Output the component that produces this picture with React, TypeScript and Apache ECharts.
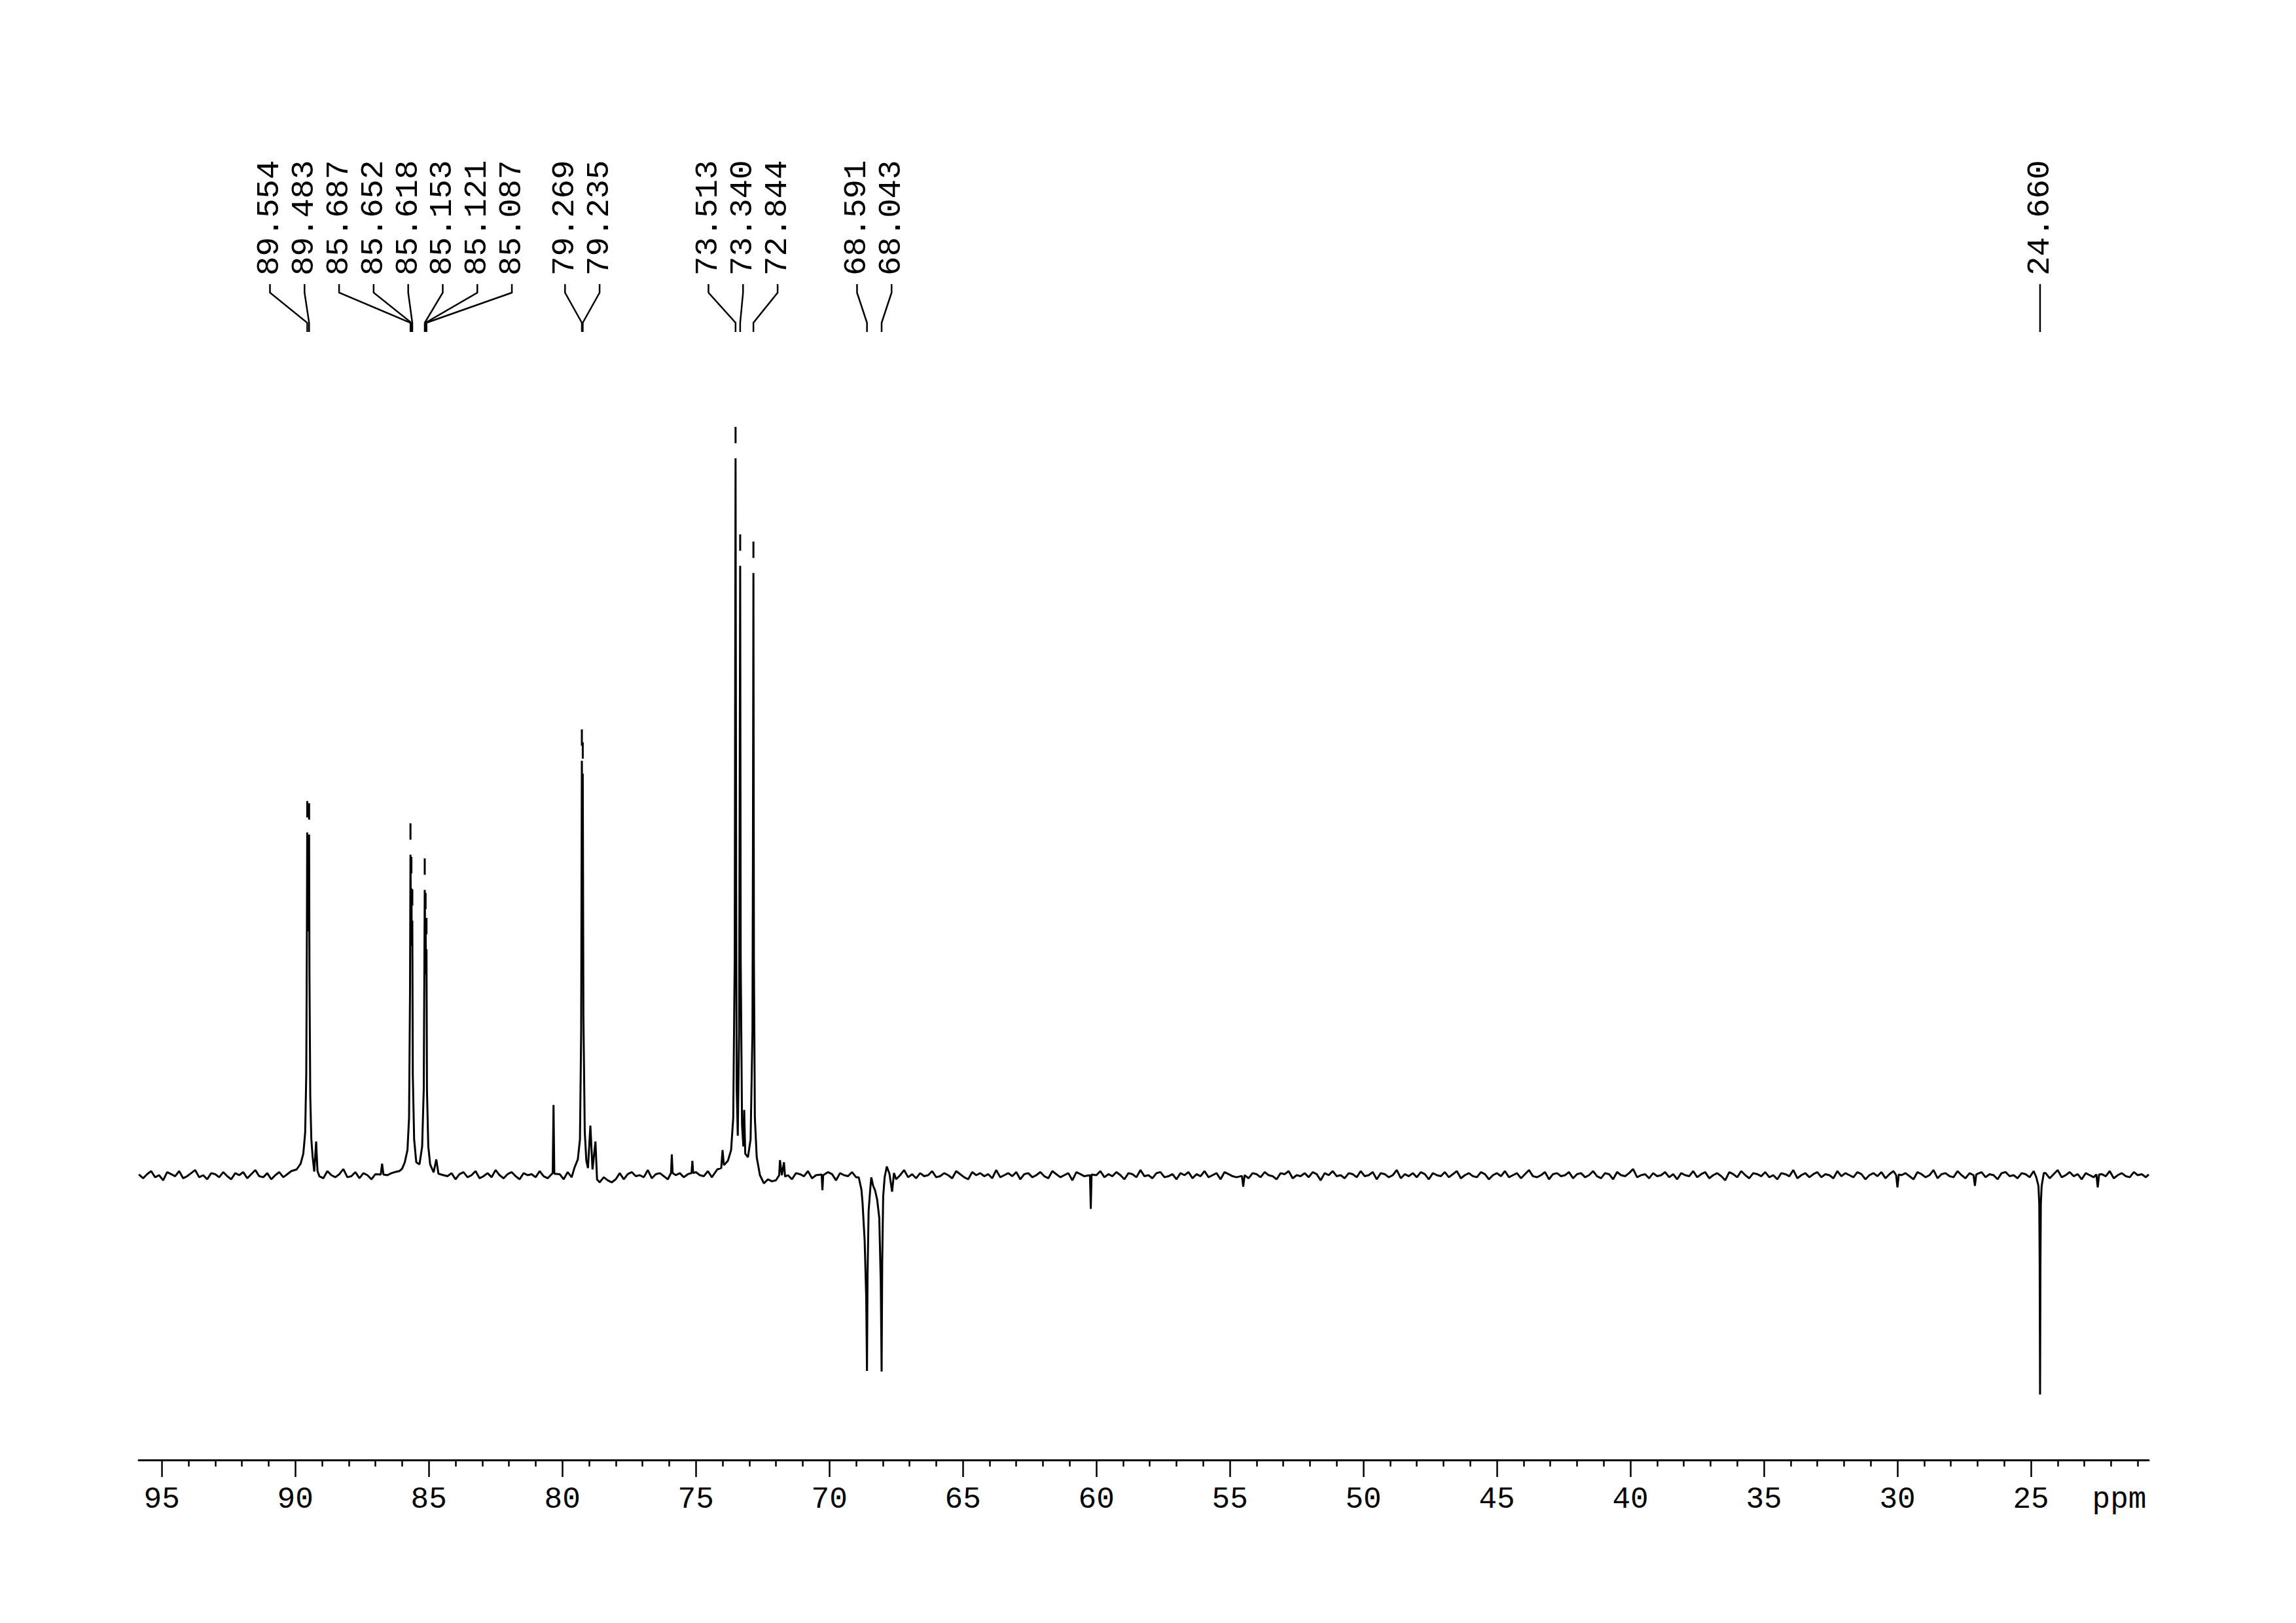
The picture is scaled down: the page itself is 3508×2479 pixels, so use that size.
import React, { useEffect, useRef } from "react";
import * as echarts from "echarts";

// ---------------- data ----------------
const PEAK_PPM = [89.554, 89.483, 85.687, 85.652, 85.618, 85.153, 85.121, 85.087, 79.269, 79.235, 73.513, 73.34, 72.844, 68.591, 68.043, 24.66];
const PEAK_LABELS = ["89.554", "89.483", "85.687", "85.652", "85.618", "85.153", "85.121", "85.087", "79.269", "79.235", "73.513", "73.340", "72.844", "68.591", "68.043", "24.660"];
// relative intensity (73.513 ppm = 100)
const PEAK_HEIGHT = [47.8, 47.5, 44.7, 40.0, 35.5, 39.8, 35.0, 31.5, 57.8, 56.0, 100, 85.0, 84.0, -27.3, -27.4, -30.6];

// trace vertices around signals (skirts, valleys, small signals)
const TRACE: number[][] = [
  [95.86, 0.1],
  [89.95, 0.8], [89.8, 1.6], [89.7, 3.0], [89.63, 6], [89.59, 14], [89.568, 32], [89.542, 36], [89.52, 34], [89.497, 36], [89.47, 28],
  [89.44, 11], [89.4, 5], [89.35, 2.5], [89.29, 0.5], [89.22, 4.7], [89.17, 0.6],
  [86.8, 0.1], [86.75, 1.6], [86.7, 0.1],
  [86.2, 0.5], [86.0, 0.9], [85.9, 1.8], [85.8, 3.5], [85.74, 8], [85.705, 25], [85.67, 36], [85.635, 32], [85.6, 14], [85.55, 5],
  [85.47, 1.8], [85.35, 1.5], [85.25, 4], [85.19, 12], [85.168, 28], [85.137, 33], [85.104, 28], [85.07, 12], [85.02, 4], [84.95, 1.5],
  [84.82, 0.4], [84.72, 2.2], [84.64, 0.2],
  [80.36, 0.3], [80.33, 9.8], [80.3, 0.2],
  [79.55, 1.0], [79.42, 2.2], [79.34, 5], [79.295, 20], [79.252, 48], [79.21, 22], [79.16, 6], [79.1, 2.0], [79.04, 1.0], [78.95, 6.9],
  [78.87, 0.8], [78.76, 4.7], [78.7, -0.6],
  [75.93, 0.3], [75.9, 2.9], [75.87, 0.3],
  [75.16, 0.3], [75.13, 2.0], [75.1, 0.3],
  [74.2, 0.8], [74.05, 1.0], [74.0, 3.5], [73.95, 1.4], [73.8, 2.0], [73.68, 3.5], [73.6, 8], [73.545, 30], [73.49, 40], [73.47, 12],
  [73.43, 5.5], [73.38, 20], [73.36, 50], [73.32, 30], [73.27, 7], [73.22, 4], [73.19, 9.1], [73.15, 3], [73.05, 2.5], [72.95, 5],
  [72.88, 20], [72.862, 45], [72.825, 30], [72.79, 8], [72.72, 2.5], [72.6, 0],
  [71.88, 0.0], [71.85, 2.1], [71.78, 0.0], [71.7, 1.8], [71.66, -0.2],
  [70.29, 0.1], [70.26, -2.1], [70.23, 0.0],
  [68.9, -0.3], [68.8, -2.0], [68.76, -3.7], [68.68, -9], [68.62, -17], [68.57, -14], [68.53, -5], [68.47, -2.0], [68.43, -0.3], [68.36, -1.5],
  [68.29, -2.1], [68.21, -3.4], [68.13, -6], [68.075, -15], [68.02, -12], [67.985, -3], [67.93, -0.3], [67.85, 1.2], [67.75, 0.2], [67.65, -2.3],
  [67.58, 0.3],
  [60.24, 0.0], [60.21, -4.7], [60.18, 0.1],
  [54.55, -0.1], [54.5, -1.6], [54.45, 0.0],
  [30.05, 0.0], [30.0, -1.7], [29.95, 0.1],
  [27.15, 0.0], [27.1, -1.5], [27.05, 0.1],
  [24.8, -0.3], [24.72, -1.5], [24.69, -4], [24.675, -12], [24.645, -12], [24.63, -4], [24.6, -1.5], [24.52, 0.3],
  [22.55, 0.1], [22.5, -1.7], [22.45, 0.1],
  [20.59, 0.1],
];

// baseline noise (in 1/7 of an intensity unit), every 0.15 ppm starting at 95.85 ppm
const NOISE_START = 95.85;
const NOISE_STEP = 0.15;
const NOISE_DIV = 7;
const NOISE = [
  2, -3, 1, 4, -2, 0, -5, 3, 1, -1, 4, -3, -1, 2, 5, -2, 0, -4, 2, 1,
  -2, 3, -1, -4, 2, 0, 3, -3, 1, 5, -1, -2, 2, -4, 0, 3, -2, 1, 4, -3,
  0, 2, -5, 1, 3, -1, -3, 4, 0, -2, 1, 6, -2, -1, 3, -3, 2, 0, -4, 1,
  3, -2, 0, 2, -3, 4, 1, -1, -5, 2, 0, 3, -2, 1, -3, 5, 0, -1, 2, -4,
  1, 3, -2, 0, 4, -3, -1, 2, -2, 5, 0, -3, 1, 3, -1, -4, 2, 0, 1, -2,
  4, -1, -3, 2, 0, 1, -4, 3, -2, 2, 6, -1, 0, -3, 2, -7, -2, -5, -7, -4,
  2, -4, 1, 3, -1, 0, -2, 5, -3, 1, 2, -1, -4, 3, 0, 2, -2, 1, -5, 3,
  0, -1, 4, -2, 1, -3, 2, 0, 3, -4, 1, 2, -1, 5, -2, 0, -8, -4, -6, -5,
  3, -2, 0, -4, 2, 1, -1, 4, -3, 0, 2, -2, 3, 1, -5, 2, 0, -1, 3, -2,
  1, 4, -3, 0, 2, -1, -2, 3, 1, -4, 0, 5, -2, 1, -3, 2, -1, 0, 4, -2,
  -1, 2, 0, -3, 4, 1, -2, -4, 3, 0, 2, -1, 1, -3, 5, -2, 0, 2, -1, 3,
  -4, 1, 2, -2, 0, 3, -1, -3, 4, 1, -2, 0, 2, -5, 3, 1, -1, 2, -3, 0,
  4, -2, 1, -1, 3, 0, -4, 2, 1, -2, 5, -1, 0, -3, 2, 3, -2, -1, 1, -4,
  2, 0, 3, -3, 1, -1, 4, -2, 0, 2, -4, 3, 1, -1, -2, 5, 0, -3, 2, 1,
  -2, 3, 0, -1, -4, 2, 1, 4, -3, 0, -1, 2, -2, 3, 1, -5, 2, 0, 4, -1,
  0, -3, 2, 1, -2, 4, -1, 0, 3, -4, 2, 1, -2, 0, 5, -3, 1, -1, 2, -2,
  3, 1, -4, 2, 0, -1, 3, -2, 1, 4, -3, 0, 2, -1, -2, 3, 1, -4, 0, 2,
  -1, 4, -2, 0, 2, -3, 1, 5, -1, -2, 0, 3, -4, 1, 2, -1, 0, 3, -3, 1,
  2, -2, 0, 4, -1, -3, 2, 1, -4, 3, 0, -1, 2, 6, -2, 0, 1, -3, 2, -1,
  0, 3, -2, 1, -4, 2, 0, -1, 4, -2, 1, 3, -3, 0, 2, -1, -5, 3, 1, -2,
  4, 0, -3, 2, 1, -1, 3, -2, 0, -4, 2, 1, -1, 5, -3, 0, 2, -2, 1, 3,
  -2, 1, 0, -3, 4, -1, 2, 0, -2, 3, 1, -4, 0, 2, -1, 3, -3, 1, 4, -2,
  0, 2, -1, -4, 3, 1, -2, 0, 5, -3, 1, 2, -1, -2, 4, 0, -3, 2, 1, -1,
  3, -2, 1, 0, -4, 2, 3, -1, 0, -3, 2, 1, -2, 4, -1, 0, 2, -3, 1, 5,
  -2, 0, 3, -1, 1, -4, 2, 0, -2, 3, 1, -1, 4, -3, 0, 2, -1, -2, 3, 0,
  1, -2,
];

const MAJOR_TICKS = [95, 90, 85, 80, 75, 70, 65, 60, 55, 50, 45, 40, 35, 30, 25];
const MINOR_TICKS = [
  94, 93, 92, 91, 89, 88, 87, 86, 84, 83, 82, 81, 79, 78, 77, 76, 74, 73, 72, 71, 69, 68, 67, 66, 64, 63, 62, 61,
  59, 58, 57, 56, 54, 53, 52, 51, 49, 48, 47, 46, 44, 43, 42, 41, 39, 38, 37, 36, 34, 33, 32, 31, 29, 28, 27, 26,
  24, 23, 22, 21,
];
const PPM_MAX = 95.863;
const PPM_MIN = 20.59;
const UNIT_LABEL = "ppm";

// ---------------- layout ----------------
const W = 3508;
const H = 2479;
const AXIS_LEFT = 212;
const AXIS_RIGHT = 3283;
const AXIS_Y = 2230;
const GRID_TOP = 500;
const BASELINE_Y = 1795;
const UNIT_PX = 10.95;
const FONT = "Liberation Mono";
const AXIS_FONT_SIZE = 46;
const PEAK_FONT_SIZE = 49;
const LABEL_SPACING = 52.8;
const LABEL_BOTTOM = 421;
const LINK_Y = [434, 447, 493, 507];
const NOISE_GAP = 0.06;

export default function App() {
  const ref = useRef<HTMLDivElement>(null);

  useEffect(() => {
    if (!ref.current) return;
    const chart = echarts.init(ref.current, undefined, { renderer: "svg" });

    const yMax = (BASELINE_Y - GRID_TOP) / UNIT_PX;
    const yMin = -(AXIS_Y - BASELINE_Y) / UNIT_PX;

    const features = TRACE.concat(PEAK_PPM.map((p, i) => [p, PEAK_HEIGHT[i]]));
    const noisePts = NOISE.map((v, i) => [NOISE_START - i * NOISE_STEP, v / NOISE_DIV]).filter(
      (n) => !features.some((f) => Math.abs(f[0] - n[0]) < NOISE_GAP)
    );
    const points = features.concat(noisePts);
    points.sort((a, b) => b[0] - a[0]);

    const markerData = PEAK_PPM.map((p, i) => [p, PEAK_HEIGHT[i]]).filter((d) => d[1] > 0);

    const gridBox = { left: AXIS_LEFT, right: W - AXIS_RIGHT, top: GRID_TOP, bottom: H - AXIS_Y };

    chart.setOption({
      animation: false,
      backgroundColor: "#ffffff",
      grid: [
        { ...gridBox, containLabel: false },
        { ...gridBox, containLabel: false },
      ],
      xAxis: [
        {
          type: "value",
          gridIndex: 0,
          min: PPM_MIN,
          max: PPM_MAX,
          inverse: true,
          position: "bottom",
          axisLine: { show: true, onZero: false, lineStyle: { color: "#000", width: 3 } },
          axisTick: { show: true, customValues: MAJOR_TICKS, length: 26, lineStyle: { color: "#000", width: 2.5 } },
          axisLabel: {
            show: true,
            customValues: MAJOR_TICKS,
            margin: 38,
            color: "#000",
            fontFamily: FONT,
            fontSize: AXIS_FONT_SIZE,
            formatter: (v: number) => String(v),
          },
          splitLine: { show: false },
        },
        {
          type: "value",
          gridIndex: 1,
          min: PPM_MIN,
          max: PPM_MAX,
          inverse: true,
          position: "bottom",
          axisLine: { show: false, onZero: false },
          axisTick: { show: true, customValues: MINOR_TICKS, length: 10, lineStyle: { color: "#000", width: 2.5 } },
          axisLabel: { show: false },
          splitLine: { show: false },
        },
      ],
      yAxis: [
        { type: "value", gridIndex: 0, min: yMin, max: yMax, show: false, splitLine: { show: false } },
        { type: "value", gridIndex: 1, min: 0, max: 1, show: false, splitLine: { show: false } },
      ],
      series: [
        {
          type: "line",
          xAxisIndex: 0,
          yAxisIndex: 0,
          data: points,
          showSymbol: false,
          symbol: "none",
          lineStyle: { color: "#000", width: 3, join: "bevel" },
          silent: true,
        },
        {
          type: "custom",
          xAxisIndex: 0,
          yAxisIndex: 0,
          data: markerData,
          silent: true,
          renderItem: (_params: any, api: any) => {
            const c = api.coord([api.value(0), api.value(1)]);
            return {
              type: "line",
              shape: { x1: c[0], y1: c[1] - 48, x2: c[0], y2: c[1] - 23 },
              style: { stroke: "#000", lineWidth: 3 },
            };
          },
        },
      ],
    });

    // peak labels, spread apart like the NMR software does
    const px = PEAK_PPM.map((p) => chart.convertToPixel({ xAxisIndex: 0 }, p) as number);
    const clusters = px.map((x, i) => ({ start: i, n: 1, sum: x }));
    let changed = true;
    while (changed) {
      changed = false;
      for (let i = 0; i < clusters.length - 1; i++) {
        const a = clusters[i];
        const b = clusters[i + 1];
        const aLast = a.sum / a.n + ((a.n - 1) / 2) * LABEL_SPACING;
        const bFirst = b.sum / b.n - ((b.n - 1) / 2) * LABEL_SPACING;
        if (bFirst - aLast < LABEL_SPACING) {
          clusters.splice(i, 2, { start: a.start, n: a.n + b.n, sum: a.sum + b.sum });
          changed = true;
          break;
        }
      }
    }
    const lx: number[] = new Array(px.length);
    clusters.forEach((c) => {
      const center = c.sum / c.n;
      for (let k = 0; k < c.n; k++) lx[c.start + k] = center + (k - (c.n - 1) / 2) * LABEL_SPACING;
    });

    const graphics: any[] = [];
    PEAK_LABELS.forEach((t, i) => {
      graphics.push({
        type: "text",
        x: lx[i],
        y: LABEL_BOTTOM,
        rotation: Math.PI / 2,
        silent: true,
        style: {
          text: t,
          fill: "#000",
          fontFamily: FONT,
          fontSize: PEAK_FONT_SIZE,
          align: "left",
          verticalAlign: "middle",
        },
      });
      graphics.push({
        type: "polyline",
        silent: true,
        shape: {
          points: [
            [lx[i], LINK_Y[0]],
            [lx[i], LINK_Y[1]],
            [px[i], LINK_Y[2]],
            [px[i], LINK_Y[3]],
          ],
        },
        style: { stroke: "#000", lineWidth: 2.5, fill: null },
      });
    });
    graphics.push({
      type: "text",
      x: 3238,
      y: AXIS_Y + 38,
      silent: true,
      style: {
        text: UNIT_LABEL,
        fill: "#000",
        fontFamily: FONT,
        fontSize: AXIS_FONT_SIZE,
        align: "center",
        verticalAlign: "top",
      },
    });
    chart.setOption({ graphic: graphics });

    return () => chart.dispose();
  }, []);

  return (
    <div
      ref={ref}
      style={{ position: "fixed", left: 0, top: 0, width: W, height: H, background: "#fff" }}
    />
  );
}
